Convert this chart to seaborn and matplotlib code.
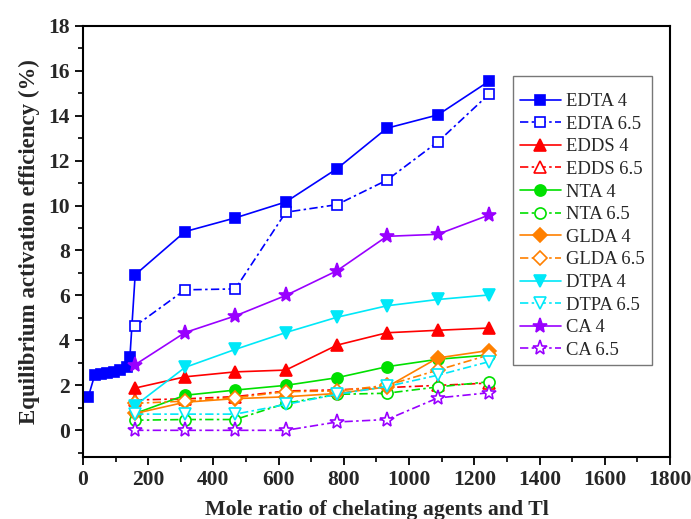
import matplotlib
matplotlib.use("Agg")
import matplotlib.pyplot as plt
import seaborn as sns
import pandas as pd
from matplotlib.ticker import MultipleLocator

# Mole ratio (chelating agent : Tl)
ratio_edta4 = [16, 36, 55, 75, 95, 115, 134, 144, 160, 313, 467, 622, 779, 932, 1088, 1244]
ratio = [160, 313, 467, 622, 779, 932, 1088, 1244]

# Equilibrium activation efficiency (%)
edta_4 = [1.48, 2.46, 2.50, 2.56, 2.61, 2.70, 2.82, 3.28, 6.92, 8.84, 9.45, 10.16, 11.64, 13.44, 14.03, 15.52]
edta_65 = [4.64, 6.25, 6.29, 9.70, 10.04, 11.13, 12.83, 14.94]
edds_4 = [1.88, 2.38, 2.60, 2.68, 3.79, 4.34, 4.45, 4.55]
edds_65 = [1.35, 1.40, 1.50, 1.75, 1.80, 1.90, 2.00, 2.10]
nta_4 = [0.75, 1.56, 1.79, 2.00, 2.34, 2.83, 3.16, 3.35]
nta_65 = [0.45, 0.48, 0.48, 1.20, 1.60, 1.65, 1.93, 2.16]
glda_4 = [0.75, 1.25, 1.41, 1.49, 1.64, 1.93, 3.22, 3.55]
glda_65 = [1.20, 1.30, 1.45, 1.72, 1.75, 2.00, 2.68, 3.35]
dtpa_4 = [1.10, 2.80, 3.60, 4.35, 5.03, 5.54, 5.82, 6.02]
dtpa_65 = [0.72, 0.72, 0.72, 1.15, 1.60, 1.95, 2.45, 3.05]
ca_4 = [2.92, 4.35, 5.09, 6.00, 7.10, 8.63, 8.72, 9.57]
ca_65 = [0.00, 0.00, 0.00, 0.00, 0.37, 0.48, 1.44, 1.67]

sns.set_style("ticks")
plt.rcParams["font.family"] = ["Liberation Serif", "DejaVu Serif"]
plt.rcParams["mathtext.fontset"] = "stix"

fig = plt.figure(figsize=(6.91, 5.19), dpi=100)
ax = fig.add_axes([0.1201, 0.1189, 0.9696 - 0.1201, 0.9505 - 0.1189])

dashdot = (0, (5, 2, 1.5, 2))
series = [
    ("EDTA 4", ratio_edta4, edta_4, "#0000FF", "s", False),
    ("EDTA 6.5", ratio, edta_65, "#0000FF", "s", True),
    ("EDDS 4", ratio, edds_4, "#FF0000", "^", False),
    ("EDDS 6.5", ratio, edds_65, "#FF0000", "^", True),
    ("NTA 4", ratio, nta_4, "#00E000", "o", False),
    ("NTA 6.5", ratio, nta_65, "#00E000", "o", True),
    ("GLDA 4", ratio, glda_4, "#FF8000", "D", False),
    ("GLDA 6.5", ratio, glda_65, "#FF8000", "D", True),
    ("DTPA 4", ratio, dtpa_4, "#00E8F8", "v", False),
    ("DTPA 6.5", ratio, dtpa_65, "#00E8F8", "v", True),
    ("CA 4", ratio, ca_4, "#9900FF", "*", False),
    ("CA 6.5", ratio, ca_65, "#9900FF", "*", True),
]

sizes = {"s": 7.5, "^": 8, "o": 8, "D": 7, "v": 8, "*": 11}

for name, xs, ys, color, marker, open_marker in series:
    df = pd.DataFrame({"ratio": xs, "eff": ys})
    sns.lineplot(
        data=df, x="ratio", y="eff", ax=ax, sort=False,
        color=color, marker=marker, markersize=sizes[marker],
        markerfacecolor="white" if open_marker else color,
        markeredgecolor=color, markeredgewidth=1.2,
        linewidth=1.2, linestyle=dashdot if open_marker else "-",
        label=name,
    )

ax.set_xlim(0, 1800)
ax.set_ylim(-1.2, 18)
ax.xaxis.set_major_locator(MultipleLocator(200))
ax.xaxis.set_minor_locator(MultipleLocator(100))
ax.yaxis.set_major_locator(MultipleLocator(2))
ax.yaxis.set_minor_locator(MultipleLocator(1))
ax.tick_params(which="major", direction="out", length=6, width=1.3,
               labelsize=15.5, color="black", top=False, right=False)
ax.tick_params(which="minor", direction="out", length=3.5, width=1.2,
               color="black", top=False, right=False)
for lab in ax.get_xticklabels() + ax.get_yticklabels():
    lab.set_fontweight("bold")
for sp in ax.spines.values():
    sp.set_visible(True)
    sp.set_linewidth(1.5)
    sp.set_color("black")

ax.set_xlabel("Mole ratio of chelating agents and Tl", fontsize=15.7,
              fontweight="bold", labelpad=7)
ax.set_ylabel("Equilibrium activation efficiency (%)", fontsize=16.5,
              fontweight="bold", labelpad=6)

leg = ax.legend(loc="upper right", bbox_to_anchor=(651.7 / 691, 1 - 76 / 519),
                bbox_transform=fig.transFigure, fontsize=13.4, frameon=True,
                fancybox=False, edgecolor="#777777", framealpha=1,
                handlelength=2.2, handletextpad=0.3, labelspacing=0.3,
                borderpad=0.35, borderaxespad=0,
                title=" ", title_fontsize=4)
leg.get_frame().set_linewidth(1.0)

fig.savefig("out.png", dpi=100)
